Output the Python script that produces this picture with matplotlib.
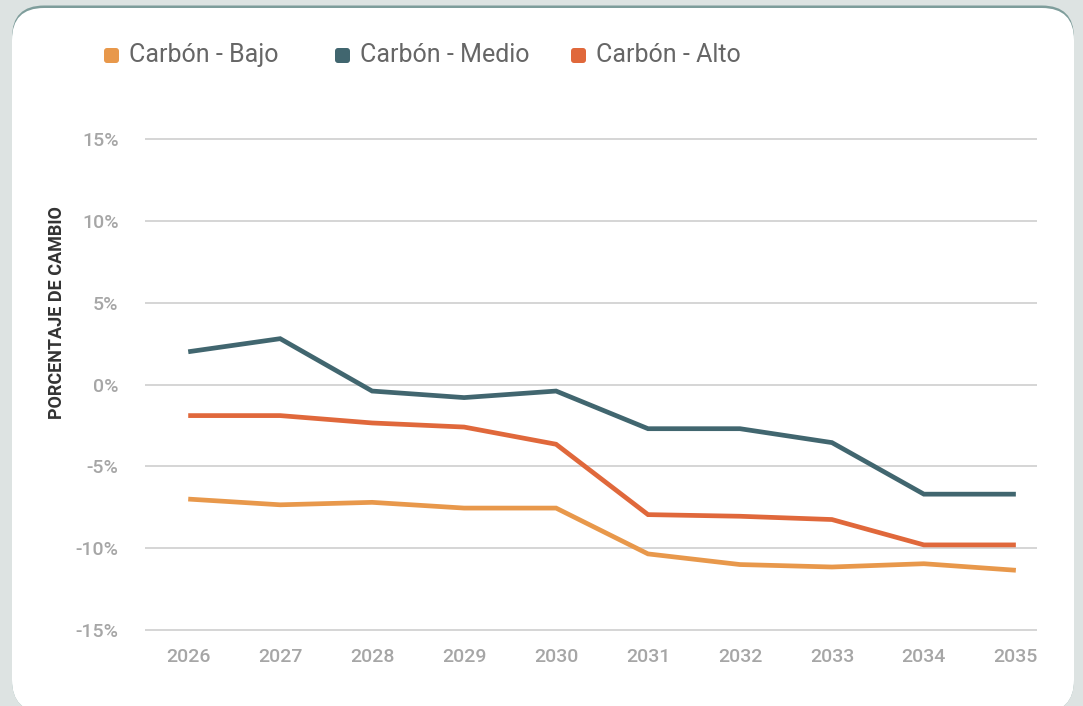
import matplotlib
matplotlib.use('Agg')
import matplotlib.pyplot as plt
from matplotlib.patches import FancyBboxPatch
from matplotlib.ticker import FuncFormatter

plt.rcParams['font.family'] = ['Roboto', 'DejaVu Sans']

# datos
years = [2026, 2027, 2028, 2029, 2030, 2031, 2032, 2033, 2034, 2035]
carbon_bajo = [-7.0, -7.35, -7.2, -7.55, -7.55, -10.35, -11.0, -11.15, -10.95, -11.35]
carbon_medio = [2.0, 2.8, -0.4, -0.8, -0.4, -2.7, -2.7, -3.55, -6.7, -6.7]
carbon_alto = [-1.9, -1.9, -2.35, -2.6, -3.65, -7.95, -8.05, -8.25, -9.8, -9.8]
y_ticks = [-15, -10, -5, 0, 5, 10, 15]

series = [
    ('Carbón - Bajo', carbon_bajo, '#E8984B'),
    ('Carbón - Medio', carbon_medio, '#41666F'),
    ('Carbón - Alto', carbon_alto, '#E0683B'),
]

W, H = 1083, 706
fig = plt.figure(figsize=(W / 100, H / 100), dpi=100)
fig.patch.set_facecolor('#DDE3E2')

# tarjeta blanca con borde superior
def card(x0, y0, x1, y1, color, z):
    p = FancyBboxPatch((x0 / 100, (H - y1) / 100), (x1 - x0) / 100, (y1 - y0) / 100,
                       boxstyle='round,pad=0,rounding_size=0.32',
                       transform=fig.dpi_scale_trans, facecolor=color,
                       edgecolor='none', zorder=z)
    fig.patches.append(p)

card(12, 5.5, 1074, 712, '#7E9D9B', 0)
card(12, 8, 1074, 712, 'white', 1)

ax = fig.add_axes([145 / W, 1 - 638.2 / H, 892 / W, 507.4 / H])
ax.set_facecolor('none')
ax.set_zorder(2)

for name, vals, color in series:
    ax.plot(years, vals, color=color, linewidth=3.4, solid_capstyle='butt',
            solid_joinstyle='miter', zorder=3)

ax.set_xlim(2025.53, 2035.23)
ax.set_ylim(-15.5, 15.5)
ax.set_yticks(y_ticks)
ax.set_xticks(years)
ax.yaxis.set_major_formatter(FuncFormatter(lambda v, p: f'{int(v)}%'))
ax.grid(axis='y', color='#D2D2D2', linewidth=1.3)
ax.grid(axis='x', visible=False)
for s in ax.spines.values():
    s.set_visible(False)
ax.tick_params(axis='both', length=0, labelsize=14, labelcolor='#A6A6A6')
ax.tick_params(axis='y', pad=19)
ax.tick_params(axis='x', pad=7)
for lbl in ax.get_xticklabels() + ax.get_yticklabels():
    lbl.set_fontweight('medium')

fig.text(57 / W, 1 - 313 / H, 'PORCENTAJE DE CAMBIO', rotation=90,
         ha='center', va='center', fontsize=13, fontweight='bold', color='#333333')

# leyenda
leg_x = [104, 335, 571]
for (name, vals, color), lx in zip(series, leg_x):
    sq = FancyBboxPatch((lx / 100, (H - 63) / 100), 0.15, 0.15,
                        boxstyle='round,pad=0,rounding_size=0.03',
                        transform=fig.dpi_scale_trans, facecolor=color,
                        edgecolor='none', zorder=3)
    fig.patches.append(sq)
    fig.text((lx + 25) / W, 1 - 55 / H, name, ha='left', va='center',
             fontsize=18, color='#666666', zorder=3)

fig.savefig('out.png', dpi=100)
